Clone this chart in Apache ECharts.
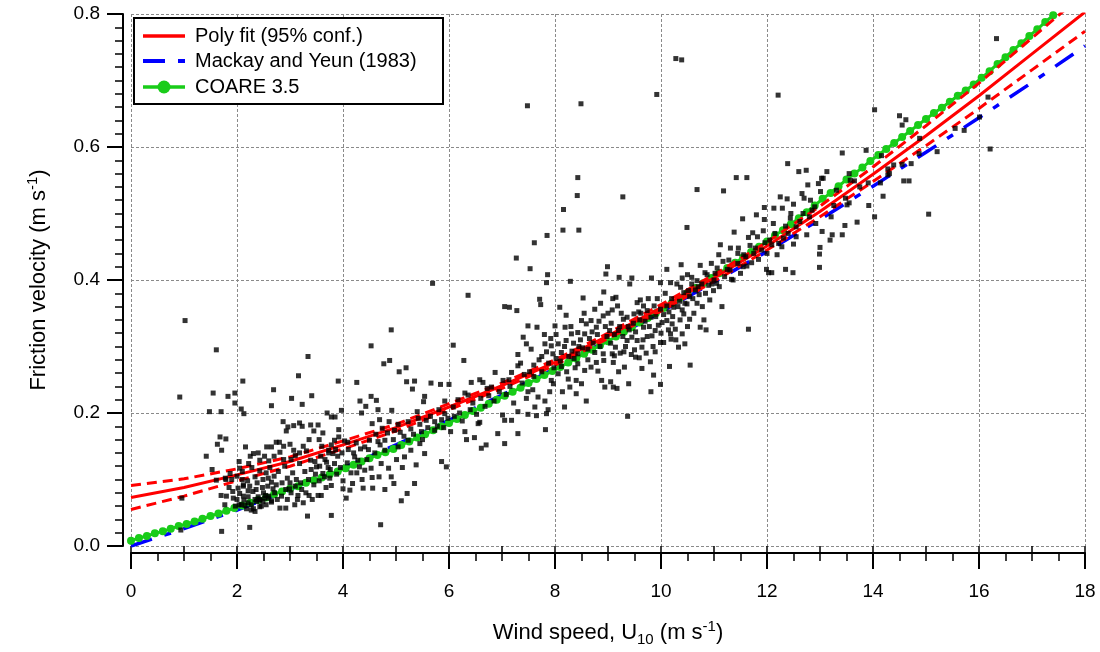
<!DOCTYPE html>
<html><head><meta charset="utf-8">
<script src="https://cdn.jsdelivr.net/npm/echarts@6/dist/echarts.min.js"></script>
<style>html,body{margin:0;padding:0;background:#fff}#c{width:1100px;height:652px}</style>
</head><body><div id="c"></div>
<script>
// ---------------- data ----------------
const fitU = [0,1,2,3,4,5,6,7,8,9,10,11,12,13,14,15,16,17,18];
const polyFit   = [0.073,0.088,0.107,0.127,0.152,0.178,0.209,0.241,0.276,0.316,0.358,0.403,0.451,0.503,0.559,0.617,0.677,0.740,0.803];
const polyUpper = [0.091,0.101,0.116,0.134,0.158,0.183,0.214,0.245,0.280,0.320,0.363,0.408,0.457,0.511,0.570,0.632,0.696,0.764,0.832];
const polyLower = [0.055,0.075,0.098,0.120,0.146,0.173,0.205,0.237,0.272,0.312,0.353,0.398,0.445,0.495,0.548,0.602,0.658,0.716,0.774];
const mackayYeun = [0.000,0.026,0.054,0.085,0.117,0.152,0.189,0.227,0.267,0.309,0.352,0.397,0.443,0.491,0.541,0.592,0.644,0.697,0.752];
const coareStep = 0.15;
const coareUstar = [0.008,0.012,0.015,0.019,0.022,0.026,0.030,0.033,0.037,0.041,0.045,0.049,0.053,0.057,0.061,0.065,0.069,0.073,0.078,0.082,
0.086,0.090,0.095,0.099,0.103,0.108,0.112,0.117,0.122,0.127,0.132,0.137,0.141,0.146,0.152,0.157,0.163,0.168,0.174,0.180,
0.185,0.191,0.197,0.203,0.208,0.214,0.220,0.226,0.232,0.238,0.245,0.251,0.257,0.263,0.269,0.276,0.282,0.289,0.295,0.302,
0.308,0.315,0.322,0.329,0.336,0.343,0.350,0.358,0.365,0.373,0.380,0.388,0.395,0.403,0.410,0.418,0.426,0.434,0.442,0.450,
0.458,0.467,0.475,0.484,0.493,0.502,0.512,0.522,0.531,0.541,0.551,0.560,0.569,0.579,0.588,0.597,0.606,0.615,0.624,0.633,
0.642,0.651,0.659,0.668,0.677,0.685,0.694,0.704,0.714,0.725,0.735,0.746,0.756,0.767,0.777,0.788,0.798];
const obs = [
[1.02,0.339],[1.61,0.295],[0.92,0.224],[1.55,0.230],[1.83,0.225],[1.96,0.230],[1.96,0.215],[1.48,0.202],[1.70,0.202],[2.11,0.248],[2.08,0.206],[2.13,0.199],[2.69,0.235],[3.16,0.256],[3.34,0.285],[3.03,0.222],[3.23,0.213],[3.41,0.226],[2.65,0.211],[3.91,0.248],[4.26,0.246],[4.53,0.301],[4.32,0.218],[4.53,0.225],[4.43,0.210],[3.70,0.200],[3.97,0.204],[4.35,0.200],[3.78,0.194],[3.85,0.194],[4.55,0.184],[2.87,0.187],[2.96,0.179],[2.93,0.173],[3.18,0.185],[3.39,0.182],[3.53,0.182],[3.92,0.175],[1.68,0.164],[1.79,0.161],[1.63,0.153],[1.71,0.144],[1.42,0.135],[1.53,0.115],[1.61,0.099],[1.79,0.100],[1.70,0.076],[0.96,0.072],[1.71,0.022],[0.94,0.024],[2.24,0.028],
[2.04,0.127],[2.22,0.124],[2.31,0.139],[2.16,0.149],[2.43,0.129],[2.60,0.128],[2.56,0.149],[2.65,0.149],[2.74,0.156],[2.80,0.156],[2.81,0.141],[3.00,0.153],[3.07,0.144],[3.10,0.136],[3.18,0.140],[3.31,0.143],[3.18,0.124],[3.39,0.129],[3.47,0.127],[3.50,0.119],[3.69,0.126],[3.73,0.144],[3.78,0.152],[3.81,0.139],[3.84,0.159],[3.92,0.164],[4.03,0.158],[4.09,0.156],[4.25,0.155],[4.33,0.146],[4.41,0.149],[4.50,0.159],[4.31,0.119],[4.41,0.114],[4.53,0.117],[4.55,0.103],[4.38,0.087],[4.56,0.087],[4.13,0.084],[4.00,0.086],[4.06,0.072],[3.78,0.091],[3.75,0.102],[3.76,0.115],[3.62,0.109],[3.53,0.076],[3.36,0.076],[3.42,0.070],[3.15,0.076],[3.09,0.062],[3.25,0.065],[3.33,0.045],[2.81,0.057],[2.92,0.057],[2.99,0.086],[2.85,0.095],[2.74,0.092],[2.65,0.096],[2.71,0.080],[2.59,0.102],[2.49,0.100],[2.43,0.113],[2.34,0.104],[2.24,0.090],[2.12,0.090],[2.12,0.075],[2.08,0.062],[2.21,0.065],[2.34,0.070],[2.43,0.070],[2.52,0.072],[2.60,0.075],[2.65,0.066],[2.46,0.060],[2.31,0.056],[2.18,0.056],[1.93,0.072],[1.97,0.060],[1.77,0.062],[1.87,0.109],[1.90,0.100],[1.78,0.102],[2.05,0.117],[3.78,0.046],[3.14,0.070],[3.59,0.076],[3.65,0.104],[4.18,0.094],[4.28,0.129],[4.22,0.134],[4.00,0.098],[3.84,0.124],[4.71,0.032],
[2.02,0.087],[2.05,0.079],[2.13,0.069],[2.21,0.074],[2.27,0.062],[2.37,0.067],[2.40,0.074],[2.43,0.069],[2.49,0.067],[2.54,0.076],[2.59,0.072],[2.65,0.068],[2.30,0.082],[2.21,0.083],[2.12,0.092],[2.04,0.062],[2.15,0.061],[2.27,0.054],[2.34,0.052],[2.43,0.059],[2.55,0.062],[3.07,0.181],[3.23,0.180],[3.45,0.173],[3.73,0.140],
[2.00,0.105],[2.10,0.112],[2.28,0.118],[2.38,0.095],[2.48,0.088],[2.55,0.110],[2.62,0.118],[2.70,0.105],[2.78,0.112],[2.90,0.120],[2.95,0.102],[3.05,0.110],[3.12,0.100],[3.20,0.095],[3.28,0.112],[3.35,0.100],[3.45,0.092],[3.55,0.098],[3.58,0.135],[3.68,0.088],[3.88,0.108],[3.95,0.118],[4.08,0.125],[4.15,0.110],[4.20,0.140],[4.45,0.130],[4.60,0.140],[1.85,0.088],[1.92,0.082],[2.00,0.070],[1.80,0.075],[2.95,0.070],[3.00,0.095],[2.88,0.130],[2.70,0.135],[3.60,0.150],[3.90,0.135],
[2.10,0.100],[2.20,0.098],[2.36,0.085],[2.50,0.080],[2.58,0.090],[2.68,0.086],[2.76,0.070],[2.84,0.075],[2.92,0.085],[3.02,0.080],[3.10,0.090],[3.22,0.085],[3.30,0.080],[3.40,0.115],[3.48,0.108],[3.56,0.120],[3.66,0.130],[3.72,0.118],[3.86,0.145],[3.98,0.140],[4.10,0.145],[4.26,0.110],[4.36,0.100],[4.48,0.145],[2.25,0.135],[2.40,0.140],[2.52,0.135],[2.88,0.150],[3.02,0.130],[3.25,0.150],[3.36,0.160],[3.55,0.160],[3.62,0.170],
[4.91,0.325],[4.88,0.279],[4.77,0.274],[5.06,0.262],[5.19,0.268],[5.20,0.247],[5.35,0.248],[5.31,0.236],[5.66,0.245],[5.84,0.243],[6.00,0.243],[5.69,0.395],[6.08,0.302],[6.36,0.377],[6.28,0.279],[5.54,0.225],[5.52,0.217],[4.63,0.219],[4.66,0.205],[4.92,0.204],[4.69,0.190],[4.74,0.177],[4.87,0.187],[4.97,0.174],[5.04,0.183],[5.23,0.187],[5.40,0.202],[5.45,0.183],[5.48,0.172],[5.57,0.189],[5.73,0.187],[5.86,0.190],[5.81,0.205],[5.92,0.199],[5.92,0.218],[6.08,0.209],[6.17,0.220],[6.30,0.230],[6.36,0.227],[6.42,0.246],[6.58,0.250],[6.64,0.246],[6.72,0.237],[6.80,0.239],[6.87,0.261],[7.02,0.249],[7.13,0.250],[7.18,0.261],[7.30,0.271],[7.30,0.288],[7.35,0.275],[7.40,0.314],[7.49,0.331],[7.46,0.304],[7.55,0.296],[7.66,0.329],[7.71,0.371],[7.73,0.363],[7.05,0.360],[7.14,0.359],[7.28,0.354],[7.27,0.433],[7.53,0.417],[7.61,0.456],[7.85,0.467],[7.86,0.408],[7.84,0.396],[8.15,0.475],[8.45,0.475],[8.29,0.398],[8.96,0.409],[8.99,0.420],[8.92,0.382],[9.09,0.372],[8.86,0.365],[8.75,0.356],[8.53,0.373],[8.09,0.359],[8.21,0.347],[8.00,0.331],[8.19,0.329],[8.50,0.339],[8.59,0.334],[8.68,0.339],[8.78,0.329],[8.91,0.346],[9.06,0.335],[9.03,0.324],[8.56,0.319],[8.43,0.321],[8.31,0.319],[8.21,0.309],[8.06,0.304],[7.93,0.301],[7.81,0.304],[7.84,0.292],[7.96,0.289],[8.12,0.291],[8.32,0.293],[8.43,0.289],[8.62,0.296],[8.75,0.291],[8.91,0.289],[8.92,0.279],[9.08,0.289],[9.10,0.276],[8.43,0.274],[8.56,0.264],[8.68,0.269],[8.81,0.263],[8.88,0.249],[9.05,0.247],[9.10,0.239],[8.94,0.239],[8.40,0.249],[8.50,0.244],[8.25,0.251],[8.28,0.239],[8.06,0.259],[7.97,0.244],[7.93,0.249],[7.90,0.232],[8.14,0.232],[8.40,0.229],[8.59,0.218],[8.18,0.209],[7.81,0.218],[7.68,0.224],[7.58,0.235],[7.46,0.222],[7.49,0.232],[7.62,0.209],[7.87,0.205],[7.84,0.199],[7.49,0.198],[7.65,0.196],[7.30,0.202],[7.18,0.189],[7.01,0.197],[7.05,0.189],[6.92,0.169],[6.58,0.186],[6.55,0.184],[7.30,0.169],[7.82,0.175],[7.05,0.154],[6.70,0.152],[6.61,0.147],[6.48,0.163],[6.33,0.160],[6.30,0.172],[6.03,0.172],[5.86,0.127],[5.95,0.119],[5.54,0.139],[5.38,0.122],[5.35,0.094],[5.21,0.079],[5.10,0.068],[4.96,0.094],[4.79,0.085],[4.91,0.104],[4.86,0.117],[4.72,0.124],[4.68,0.104],[5.01,0.130],[5.16,0.134],[5.12,0.118],[5.28,0.144],[4.79,0.144],[4.66,0.157],[4.79,0.159],[5.23,0.159],[5.45,0.154],[5.04,0.149],[5.73,0.174],
[4.62,0.168],[4.70,0.152],[4.84,0.170],[4.95,0.160],[5.08,0.171],[5.15,0.165],[5.28,0.176],[5.33,0.168],[5.42,0.192],[5.50,0.160],[5.60,0.178],[5.65,0.195],[5.78,0.180],[5.90,0.178],[5.98,0.192],[6.10,0.195],[6.20,0.200],[6.25,0.188],[6.40,0.205],[6.45,0.215],[6.52,0.198],[6.60,0.222],[6.68,0.210],[6.75,0.226],[6.85,0.218],[6.95,0.232],[7.08,0.228],[7.15,0.240],[7.22,0.215],[7.38,0.245],[7.42,0.258],[7.52,0.262],[7.60,0.272],[7.70,0.280],[7.75,0.262],[7.88,0.275],[7.98,0.268],[8.02,0.282],[8.12,0.270],[8.18,0.300],[8.26,0.285],[8.35,0.305],[8.38,0.268],[8.48,0.310],[8.52,0.298],[8.65,0.312],[8.72,0.305],[8.80,0.318],[8.85,0.300],[8.98,0.315],[9.05,0.305],[9.12,0.318],[9.22,0.330],[9.28,0.315],[9.40,0.325],[9.48,0.335],[9.52,0.322],[9.60,0.340],[9.70,0.338],[9.78,0.330],[9.90,0.345],[9.95,0.332],[10.05,0.348],[10.15,0.352],[10.22,0.345],[10.35,0.368],[10.40,0.355],[10.60,0.372],[10.65,0.385],[10.72,0.378],[10.90,0.392],[11.00,0.400],[11.05,0.395],[11.20,0.405],[11.30,0.415],[11.45,0.425],[11.50,0.410],[11.60,0.435],[11.75,0.440],[11.90,0.445],[12.05,0.460],[12.15,0.470],[12.22,0.455],[12.40,0.470],[12.55,0.480],[12.62,0.488],[12.80,0.495],[12.90,0.510],[12.92,0.485],
[7.60,0.255],[7.75,0.285],[7.80,0.318],[7.92,0.312],[8.02,0.318],[8.10,0.278],[8.22,0.262],[8.30,0.330],[8.36,0.282],[8.45,0.300],[8.55,0.350],[8.62,0.280],[8.70,0.322],[8.78,0.276],[8.83,0.338],[8.95,0.330],[9.00,0.350],[9.08,0.355],[9.12,0.286],[9.25,0.350],[9.33,0.300],[9.38,0.330],[9.44,0.288],[9.50,0.295],[9.58,0.352],[9.66,0.310],[9.72,0.290],[9.76,0.372],[9.85,0.300],[9.93,0.372],[10.00,0.320],[10.08,0.380],[10.14,0.325],[10.20,0.372],[10.28,0.310],[10.36,0.340],[10.45,0.365],[10.50,0.330],[10.62,0.350],[10.70,0.390],[10.78,0.360],[10.84,0.380],[10.92,0.370],[11.02,0.410],[11.10,0.390],[11.15,0.360],[11.28,0.430],[11.36,0.400],[11.45,0.440],[11.55,0.420],[11.68,0.452],[11.82,0.465],[12.00,0.440],[12.12,0.485],[12.28,0.450],[12.45,0.500],[12.55,0.465],[12.68,0.500],[12.82,0.520],
[9.28,0.525],[9.21,0.404],[9.45,0.403],[9.41,0.394],[9.82,0.403],[9.99,0.396],[10.11,0.416],[10.18,0.396],[10.38,0.423],[10.40,0.403],[10.50,0.408],[10.58,0.404],[10.74,0.422],[10.95,0.425],[10.83,0.411],[11.12,0.453],[10.68,0.536],[11.18,0.534],[10.49,0.479],[11.38,0.472],[11.54,0.492],[11.42,0.554],[11.62,0.554],[11.65,0.464],[11.80,0.498],[11.95,0.509],[11.95,0.491],[11.93,0.474],[11.73,0.471],[11.46,0.448],[11.31,0.448],[11.09,0.438],[11.33,0.401],[11.78,0.448],[11.99,0.416],[12.09,0.411],[12.35,0.416],[12.49,0.411],[12.19,0.438],[12.09,0.453],[11.96,0.456],[12.13,0.508],[12.29,0.508],[12.25,0.525],[12.38,0.522],[12.50,0.514],[12.66,0.530],[12.70,0.523],[12.77,0.543],[12.60,0.563],[12.74,0.565],[12.39,0.575],[12.97,0.545],[13.03,0.553],[13.06,0.553],[13.13,0.563],[13.01,0.533],[12.85,0.505],[12.44,0.493],[12.35,0.481],[12.75,0.468],[13.04,0.473],[13.00,0.449],[12.99,0.439],[12.99,0.419],[12.03,0.411],[12.31,0.463],[12.50,0.454],[11.56,0.438],[11.84,0.431],[11.12,0.321],[11.65,0.326],[10.55,0.272],[10.16,0.270],[9.99,0.243],[9.81,0.232],[9.37,0.195],[9.39,0.244],[9.17,0.237],[9.86,0.257],[9.64,0.267],[9.59,0.283],[9.52,0.284],[9.31,0.269],[9.20,0.262],[9.23,0.290],[9.30,0.292],[9.64,0.299],[9.80,0.277],[9.89,0.292],[9.99,0.306],[10.05,0.306],[10.19,0.311],[10.18,0.319],[10.33,0.299],[10.45,0.304],[10.40,0.319],[10.27,0.326],[10.21,0.334],[10.11,0.339],[10.02,0.336],[9.89,0.324],[9.83,0.316],[9.74,0.315],[9.67,0.329],[9.55,0.309],[9.45,0.314],[9.36,0.309],[9.14,0.299],[9.20,0.324],[9.29,0.341],[9.49,0.349],[9.62,0.350],[9.74,0.354],[9.81,0.344],[9.87,0.361],[9.99,0.356],[10.11,0.361],[10.24,0.359],[10.32,0.360],[10.43,0.349],[10.54,0.341],[10.74,0.329],[10.85,0.325],[10.81,0.340],[10.49,0.364],[10.54,0.375],[10.68,0.365],[10.43,0.381],[10.52,0.384],[10.37,0.389],[10.30,0.394],[10.58,0.394],[10.68,0.399],[10.77,0.394],[10.87,0.408],[10.99,0.384],[10.96,0.394],[11.06,0.418],[11.17,0.428],[11.25,0.416],[11.62,0.421],[11.71,0.426],[9.36,0.344],[9.18,0.361],[9.15,0.374],[9.55,0.366],[9.61,0.370],[9.67,0.361],
[16.33,0.763],[16.17,0.675],[16.01,0.645],[15.72,0.625],[15.55,0.628],[14.88,0.613],[15.21,0.593],[16.21,0.597],[14.03,0.656],[14.50,0.647],[14.62,0.641],[14.55,0.633],[13.87,0.595],[13.42,0.591],[14.87,0.590],[14.16,0.587],[14.72,0.575],[14.55,0.574],[14.39,0.573],[14.28,0.567],[14.31,0.560],[14.28,0.558],[14.58,0.549],[14.68,0.549],[14.14,0.546],[13.91,0.546],[13.75,0.540],[13.55,0.560],[13.57,0.550],[13.65,0.549],[13.31,0.535],[14.19,0.526],[13.48,0.523],[13.55,0.516],[13.51,0.513],[13.26,0.512],[13.92,0.512],[13.21,0.495],[14.03,0.495],[13.70,0.487],[13.47,0.482],[13.23,0.468],[13.42,0.468],[13.19,0.460],[15.05,0.499],
[7.48,0.662],[8.49,0.665],[9.92,0.679],[10.28,0.733],[10.39,0.731],[12.21,0.678],[8.43,0.554],[8.42,0.527],[8.16,0.506]
];
const xTickStep = 2, yTickStep = 0.2;
const legendNames = ['Poly fit (95% conf.)', 'Mackay and Yeun (1983)', 'COARE 3.5'];

// ---------------- chart ----------------
const FONT = '"Liberation Sans", Arial, sans-serif';
const RED = '#ff0000', BLUE = '#0000ff', GREEN = '#19cc19';
const pair = (xs, ys) => xs.map((x, i) => [x, ys[i]]);
const coareData = coareUstar.map((v, i) => [+(i * coareStep).toFixed(2), v]);
const chart = echarts.init(document.getElementById('c'), null, {renderer: 'canvas'});
const axisBase = {
  axisLine: {show: true, onZero: false, lineStyle: {color: '#000', width: 2}},
  splitLine: {show: true, lineStyle: {color: '#8a8a8a', width: 1, type: [3, 2]}},
};
// legend box drawn as graphic (icons need exact line styles)
const legendRows = [36, 61, 87];
const legendGraphic = [
  {type: 'rect', left: 133, top: 17, shape: {width: 309, height: 86}, style: {fill: '#fff', stroke: '#000', lineWidth: 2}, z: 100},
  {type: 'line', shape: {x1: 143, y1: legendRows[0], x2: 185, y2: legendRows[0]}, style: {stroke: RED, lineWidth: 3.5}, z: 101},
  {type: 'line', shape: {x1: 143, y1: legendRows[1], x2: 185, y2: legendRows[1]}, style: {stroke: BLUE, lineWidth: 4, lineDash: [22, 13, 7, 13]}, z: 101},
  {type: 'line', shape: {x1: 143, y1: legendRows[2], x2: 185, y2: legendRows[2]}, style: {stroke: GREEN, lineWidth: 3.5}, z: 101},
  {type: 'circle', shape: {cx: 164, cy: legendRows[2], r: 6.5}, style: {fill: GREEN}, z: 102}
].concat(legendNames.map((t, i) => ({
  type: 'text', x: 195, y: legendRows[i], z: 101,
  style: {text: t, fontSize: 20, fontFamily: FONT, fill: '#000', verticalAlign: 'middle', textVerticalAlign: 'middle'}
})));

chart.setOption({
  animation: false,
  backgroundColor: '#fff',
  textStyle: {fontFamily: FONT},
  grid: {left: 131, right: 15, top: 14, bottom: 100.5, containLabel: false},
  graphic: legendGraphic,
  xAxis: [{
    ...axisBase, type: 'value', min: 0, max: 18, interval: xTickStep, offset: 7, position: 'bottom',
    axisTick: {show: true, length: 16, lineStyle: {color: '#000', width: 2}},
    minorTick: {show: true, splitNumber: 4, length: 8, lineStyle: {color: '#000', width: 1.5}},
    axisLabel: {fontSize: 19, color: '#000', margin: 29, fontFamily: FONT},
    name: 'Wind speed, U{sub|10} (m s{sup|-1})', nameLocation: 'middle', nameGap: 66,
    nameTextStyle: {fontSize: 22, color: '#000', fontFamily: FONT, lineHeight: 28,
      rich: {sub: {fontSize: 15, lineHeight: 16, verticalAlign: 'bottom', fontFamily: FONT, color: '#000'},
             sup: {fontSize: 15, lineHeight: 12, verticalAlign: 'top', fontFamily: FONT, color: '#000'}}}
  }, {
    type: 'value', min: 0, max: 18, interval: 1, offset: 7, position: 'bottom',
    axisLine: {show: false}, splitLine: {show: false}, axisLabel: {show: false},
    axisTick: {show: true, length: 11, lineStyle: {color: '#000', width: 1.5}}
  }],
  yAxis: {
    ...axisBase, type: 'value', min: 0, max: 0.8, interval: yTickStep, offset: 8,
    axisTick: {show: true, length: 16, lineStyle: {color: '#000', width: 2}},
    minorTick: {show: true, splitNumber: 10, length: 8, lineStyle: {color: '#000', width: 1.5}},
    axisLabel: {fontSize: 19, color: '#000', margin: 23, fontFamily: FONT, formatter: v => v.toFixed(1)},
    name: 'Friction velocity (m s{sup|-1})', nameLocation: 'middle', nameRotate: 90, nameGap: 70,
    nameTextStyle: {fontSize: 22, color: '#000', fontFamily: FONT, lineHeight: 28,
      rich: {sup: {fontSize: 15, lineHeight: 12, verticalAlign: 'top', fontFamily: FONT, color: '#000'}}}
  },
  series: [
    {name: 'obs', type: 'scatter', data: obs, symbol: 'rect', symbolSize: 5,
     itemStyle: {color: '#000'}, z: 6, silent: true},
    {name: 'lower95', type: 'line', data: pair(fitU, polyLower), smooth: false,
     showSymbol: false, symbol: 'none', lineStyle: {color: RED, width: 3, type: [10, 6]}, z: 3},
    {name: 'upper95', type: 'line', data: pair(fitU, polyUpper), smooth: false,
     showSymbol: false, symbol: 'none', lineStyle: {color: RED, width: 3, type: [10, 6]}, z: 3},
    {name: legendNames[1], type: 'line', data: pair(fitU, mackayYeun), smooth: false,
     showSymbol: false, symbol: 'none', itemStyle: {color: BLUE},
     lineStyle: {color: BLUE, width: 3.5, type: [22, 13, 7, 13]}, z: 2},
    {name: legendNames[2], type: 'line', data: coareData, symbol: 'circle', symbolSize: 8,
     showSymbol: true, itemStyle: {color: GREEN}, lineStyle: {color: GREEN, width: 3}, z: 2},
    {name: legendNames[0], type: 'line', data: pair(fitU, polyFit), smooth: false,
     showSymbol: false, symbol: 'none', itemStyle: {color: RED},
     lineStyle: {color: RED, width: 3}, z: 4}
  ]
});
</script></body></html>
